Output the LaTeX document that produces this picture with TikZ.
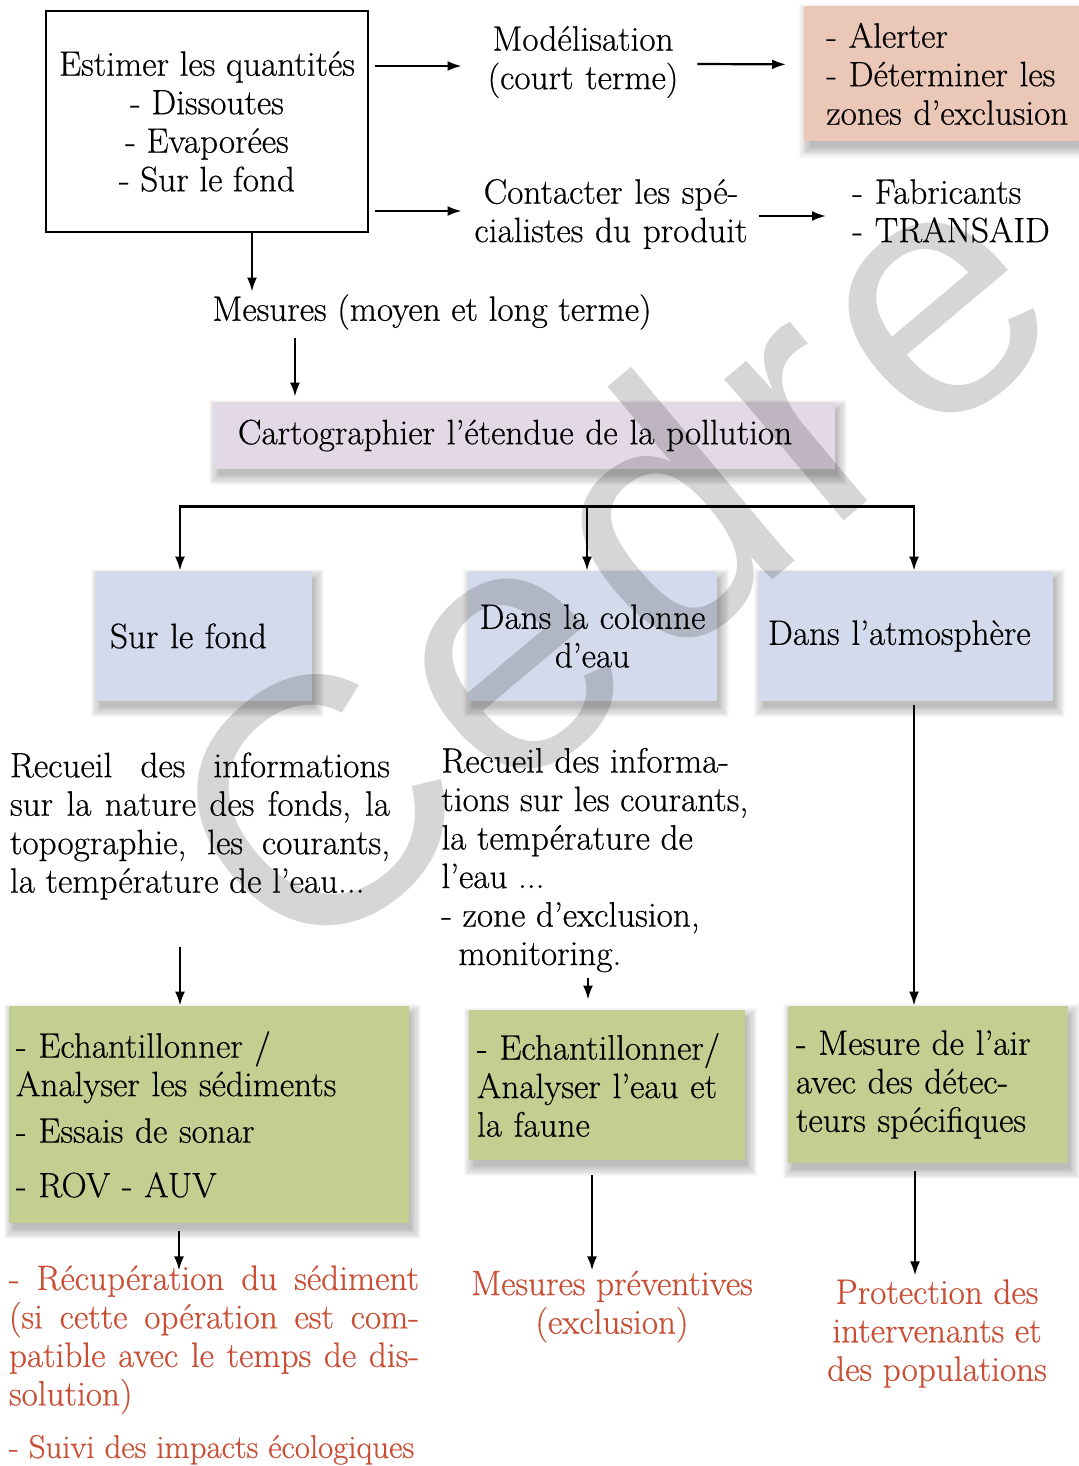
\documentclass[tikz,border=0pt]{standalone}
\usepackage{fontspec}
\setmainfont{Latin Modern Roman}[FakeBold=0.5]
\newfontfamily\wmfont{Liberation Sans}
\usetikzlibrary{arrows.meta,calc,backgrounds}
\definecolor{pinkbox}{RGB}{234,199,182}
\definecolor{lavbox}{RGB}{227,216,229}
\definecolor{bluebox}{RGB}{211,218,235}
\definecolor{greenbox}{RGB}{195,206,145}
\definecolor{redtxt}{RGB}{201,78,52}
\newcommand\boxshadow[1]{%
  \foreach \k in {0,...,9}{%
    \fill[black,opacity=0.028]
      ($(#1.south west)+(-2.5pt+\k*0.6pt,-8pt+\k*0.6pt)$) rectangle
      ($(#1.north east)+(6pt-\k*0.6pt,1pt-\k*0.6pt)$);}}
\begin{document}
\begin{tikzpicture}[x=0.5pt,y=-0.5pt,
  font=\fontsize{17.6}{19.25}\selectfont,
  arr/.style={-{Latex[length=7pt,width=5pt]},line width=1.1pt},
  busline/.style={line width=1.3pt},
  plain/.style={inner sep=0pt},
  redtext/.style={text=redtxt,inner sep=0pt},
  bluestyle/.style={fill=bluebox,minimum height=65pt,inner ysep=0pt},
  greenstyle/.style={fill=greenbox,inner ysep=0pt,align=left},
]
\useasboundingbox (0,0) rectangle (1078,1466);

% top row
\node[draw,line width=0.6pt,minimum width=161pt,minimum height=110.5pt,align=center,inner sep=0pt] (box1) at (207,121.5)
  {Estimer les quantités\\- Dissoutes\\- Evaporées\\- Sur le fond};
\node[plain,text width=110pt,align=center] (model) at (583,62) {Modélisation\\(court terme)};
\node[fill=pinkbox,anchor=north west,text width=128pt,inner xsep=11pt,inner ysep=0pt,minimum height=67.5pt,align=left] (pink) at (804,6)
  {- Alerter\\- Déterminer les\\zones d’exclusion};
\node[plain,text width=140pt,align=center] (contact) at (611,214) {Contacter les spé-\\cialistes du produit};
\node[plain,anchor=west,text width=100pt,align=left] (fab) at (852,211) {- Fabricants\\- TRANSAID};
\node[plain] (mesures) at (432,312) {Mesures (moyen et long terme)};
\node[fill=lavbox,text width=286.5pt,inner xsep=12pt,inner ysep=0pt,minimum height=33.5pt,align=left] (carto) at (524.5,435.5)
  {Cartographier l’étendue de la pollution};

% blue boxes
\node[bluestyle,text width=94pt,inner xsep=7pt,align=left] (fond) at (204,636) {Sur le fond};
\node[bluestyle,text width=124.5pt,inner xsep=0pt,align=center] (colonne) at (592.5,636) {Dans la colonne\\d’eau};
\node[bluestyle,text width=138pt,inner xsep=4.5pt,align=left] (atmos) at (906,636) {Dans l’atmosphère};

% descriptive text
\node[plain,text width=190pt,align=justify] (recL) at (200,826)
  {Recueil des informations\linebreak sur la nature des fonds, la\linebreak topographie, les courants,\linebreak la température de l’eau...};
\node[plain,anchor=west,align=left] (recM) at (441,860)
  {Recueil des informa-\\tions sur les courants,\\la température de\\l’eau ...\\- zone d’exclusion,\\\hspace*{8.5pt}monitoring.};

% green boxes
\node[greenstyle,text width=193pt,inner xsep=3.5pt,minimum height=108.5pt] (gL) at (209,1114.5)
  {- Echantillonner /\\Analyser les sédiments\\[4pt]- Essais de sonar\\[8pt]- ROV - AUV};
\node[greenstyle,text width=130pt,inner xsep=4pt,minimum height=75pt] (gM) at (607,1085)
  {- Echantillonner/\\Analyser l’eau et\\la faune};
\node[greenstyle,text width=132pt,inner xsep=4pt,minimum height=78.5pt] (gR) at (928,1084.5)
  {- Mesure de l’air\\avec des détec-\\teurs spécifiques};

% red results
\node[redtext,text width=205pt,align=justify] (redL) at (214,1365)
  {- Récupération du sédiment\linebreak (si cette opération est com-\linebreak patible avec le temps de dis-\linebreak solution)\\[7pt]{\fontsize{16.4}{19.25}\selectfont - Suivi des impacts écologiques}};
\node[redtext,align=center] (redM) at (612,1306.5) {Mesures préventives\\(exclusion)};
\node[redtext,align=center] (redR) at (937,1333.5) {Protection des\\intervenants et\\des populations};

% soft shadows
\begin{scope}[on background layer]
  \fill[white] (0,0) rectangle (1078,1466);
  \boxshadow{pink}
  \boxshadow{carto}
  \boxshadow{fond}
  \boxshadow{colonne}
  \boxshadow{atmos}
  \boxshadow{gL}
  \boxshadow{gM}
  \boxshadow{gR}
\end{scope}

% connectors
\draw[arr] ($(box1.east)+(3pt,27.75pt)$) -- ($(model.west)+(-5.5pt,-2pt)$);
\draw[arr] ($(model.east)+(2pt,-1pt)$) -- ($(pink.west)+(-9pt,4.75pt)$);
\draw[arr] ($(box1.east)+(3pt,-44.75pt)$) -- ($(contact.west)+(-4.5pt,1.5pt)$);
\draw[arr] ($(contact.east)+(4pt,-1pt)$) -- ($(fab.west)+(-13pt,-2.5pt)$);
\draw[arr] ($(box1.south)+(22.5pt,0)$) -- ($(mesures.north)+(-90pt,1.2pt)$);
\draw[arr] ($(mesures.south)+(-68.5pt,-4.2pt)$) -- ($(carto.north)+(-114.75pt,2.5pt)$);

\coordinate (bL) at ($(carto.south)+(-172.25pt,-18.5pt)$);
\coordinate (bM) at ($(carto.south)+(31.25pt,-18.5pt)$);
\coordinate (bR) at ($(carto.south)+(194.75pt,-18.5pt)$);
\draw[busline] ([xshift=-0.55pt]bL) -- ([xshift=0.55pt]bR);
\draw[arr] (bL) -- (bL |- fond.north);
\draw[arr] (bM) -- (bM |- colonne.north);
\draw[arr] (bR) -- (bR |- atmos.north);

\draw[arr] ($(atmos.south)+(4pt,-2pt)$) -- ($(gR.north)+(-7pt,0)$);
\coordinate (c1) at ($(gL.north)+(-14.5pt,29.5pt)$);
\draw[arr] (c1) -- (c1 |- gL.north);
\coordinate (c2) at ($(gM.north)+(-9.5pt,16pt)$);
\draw[arr,shorten >=5pt] (c2) -- (c2 |- gM.north);

\coordinate (e1) at ($(gL.south)+(-15pt,-23.5pt)$);
\draw[arr] ($(gL.south)+(-15pt,-4pt)$) -- (e1);
\coordinate (e2) at ($(gM.south)+(-7.5pt,-55pt)$);
\draw[arr] ($(gM.south)+(-7.5pt,-7.5pt)$) -- (e2);
\coordinate (e3) at ($(gR.south)+(-6.5pt,-56pt)$);
\draw[arr] ($(gR.south)+(-6.5pt,-4pt)$) -- (e3);

% watermark
\node[inner sep=0pt,rotate=40,text=black,text opacity=0.16,font=\wmfont\fontsize{175}{175}\selectfont] (wm) at (606,557)
  {C\kern8pt e\kern8pt d\kern8pt r\kern8pt e};
\end{tikzpicture}
\end{document}
